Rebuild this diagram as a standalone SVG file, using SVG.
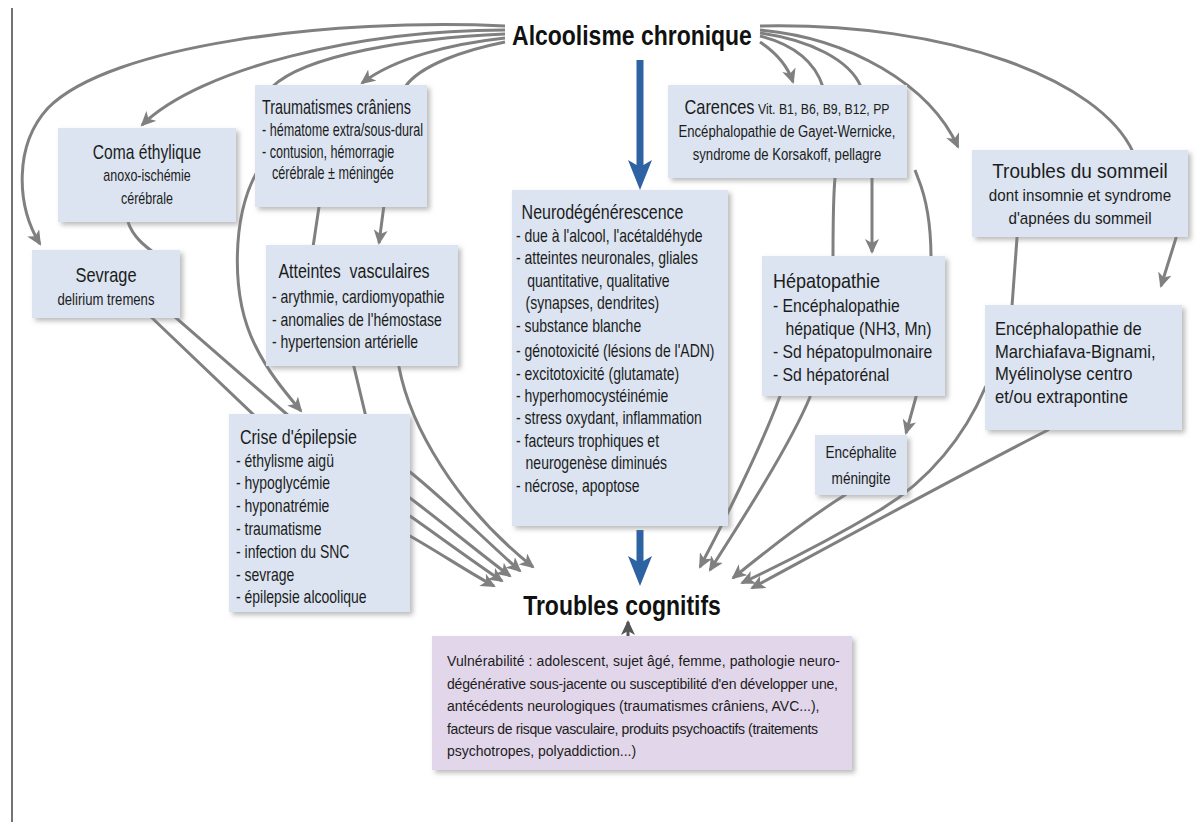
<svg xmlns="http://www.w3.org/2000/svg" width="1203" height="830" viewBox="0 0 1203 830">
<style>
.box{fill:#dbe4f0;filter:url(#sh)}
.vb{fill:#e2d6ea;filter:url(#sh)}
text{font-family:"Liberation Sans",Arial,sans-serif;fill:#1c1c1c;font-size:17.5px}
.h{font-size:20px}
.s{font-size:16px}
.c{text-anchor:middle}
.big{font-weight:bold;font-size:28px;fill:#111;text-anchor:middle}
.v{font-size:14px}
.cn{fill:none;stroke:#808080;stroke-width:3;marker-end:url(#ah)}
.blue{fill:#2d62a3}
</style>
<defs>
<filter id="sh" x="-10%" y="-10%" width="130%" height="130%">
<feDropShadow dx="3" dy="3" stdDeviation="2.5" flood-color="#777" flood-opacity="0.5"/>
</filter>
<marker id="ah" markerUnits="userSpaceOnUse" markerWidth="16" markerHeight="14" refX="13" refY="7" orient="auto">
<path d="M0,0 L15,7 L0,14 L4,7 Z" fill="#808080"/>
</marker>
<marker id="ahd" markerUnits="userSpaceOnUse" markerWidth="16" markerHeight="14" refX="13" refY="7" orient="auto">
<path d="M0,0 L15,7 L0,14 L4,7 Z" fill="#555"/>
</marker>
</defs>
<rect width="1203" height="830" fill="#fff"/>
<line x1="12" y1="8" x2="12" y2="822" stroke="#444" stroke-width="1.5"/>

<g id="connectors">
<path class="cn" d="M505,26 C330,18 110,45 48,108 C14,145 16,205 40,244"/>
<path class="cn" d="M505,30 C360,30 200,68 142,125"/>
<path class="cn" d="M505,34 C410,38 305,55 272,87 L258,170 C232,215 230,295 255,345 C268,372 285,392 301,411"/>
<path class="cn" d="M505,38 C450,44 395,58 362,83"/>
<path class="cn" d="M505,42 C465,50 420,65 405,87 L384,205 L379,243"/>
<path class="cn" d="M128,222 C133,237 145,246 153,252 L150,316 L256,417 L400,534 L410,536 C440,553 468,572 494,586"/>
<path class="cn" d="M170,312 L176,318 L290,417 L400,513 L410,516 C440,537 472,561 502,581"/>
<path class="cn" d="M320,200 L313,247 L352,360 L354,367 L366,417 L400,496 L410,498 C442,522 478,552 510,576"/>
<path class="cn" d="M400,470 L410,472 C445,500 483,538 520,571"/>
<path class="cn" d="M398,360 L399,367 C410,425 455,505 533,567"/>
<path class="cn" d="M760,42 C775,52 787,64 793,82"/>
<path class="cn" d="M760,36 C795,45 815,62 823,87 L835,172 L835,178 C833,200 833,230 833,258 L782,390 L780,396 C762,445 725,520 700,567"/>
<path class="cn" d="M760,33 C810,40 850,60 861,87 L872,172 L872,252"/>
<path class="cn" d="M915,170 L918,178 C927,200 931,228 931,258 L917,390 L916,397 L906,433"/>
<path class="cn" d="M810,390 L810,397 C790,445 742,520 710,570"/>
<path class="cn" d="M850,490 L845,495 C805,520 765,552 733,578"/>
<path class="cn" d="M1050,425 L1048,430 C960,475 850,535 752,588"/>
<path class="cn" d="M1018,230 L1017,238 L1012,306 L988,383 L985,388 C965,435 930,480 880,510 C830,540 780,565 742,583"/>
<path class="cn" d="M760,30 C850,38 930,85 958,147"/>
<path class="cn" d="M760,26 C950,22 1100,80 1133,152 L1177,232 L1176,238 L1161,286"/>
<path d="M628,636 L628,622" fill="none" stroke="#555" stroke-width="3" marker-end="url(#ahd)"/>
<g id="blue-arrows">
<rect class="blue" x="636.5" y="60" width="7" height="108"/>
<path class="blue" d="M628,160 L640,190 L652,160 L640,167 Z"/>
<rect class="blue" x="636.5" y="530" width="7" height="34"/>
<path class="blue" d="M628,556 L640,586 L652,556 L640,563 Z"/>
</g>
</g>

<g id="alcoolisme">
<g transform="translate(632,0) scale(0.82,1)"><text class="big" x="0" y="45">Alcoolisme chronique</text></g>
</g>
<g id="troubles-cognitifs">
<g transform="translate(622,0) scale(0.82,1)"><text class="big" x="0" y="615">Troubles cognitifs</text></g>
</g>

<g id="coma">
<rect class="box" x="58" y="128" width="178" height="94"/>
<g transform="translate(147,0) scale(0.78,1)">
<text class="h c" x="0" y="159">Coma éthylique</text>
<text class="s c" x="0" y="181">anoxo-ischémie</text>
<text class="s c" x="0" y="204">cérébrale</text>
</g>
</g>

<g id="traumatismes">
<rect class="box" x="255" y="85" width="172" height="122"/>
<g transform="translate(262,0) scale(0.72,1)">
<text class="h" x="0" y="114">Traumatismes crâniens</text>
<text x="0" y="136">- hématome extra/sous-dural</text>
<text x="0" y="158">- contusion, hémorragie</text>
<text x="14" y="179">cérébrale ± méningée</text>
</g>
</g>

<g id="carences">
<rect class="box" x="668" y="85" width="239" height="93"/>
<g transform="translate(787,0) scale(0.82,1)">
<text class="h c" x="0" y="114">Carences<tspan style="font-size:15px"> Vit. B1, B6, B9, B12, PP</tspan></text>
<text class="s c" x="0" y="137">Encéphalopathie de Gayet-Wernicke,</text>
<text class="s c" x="0" y="160">syndrome de Korsakoff, pellagre</text>
</g>
</g>

<g id="sommeil">
<rect class="box" x="972" y="150" width="216" height="87"/>
<g transform="translate(1080,0) scale(0.95,1)">
<text class="h c" x="0" y="178">Troubles du sommeil</text>
<text class="s c" x="0" y="201">dont insomnie et syndrome</text>
<text class="s c" x="0" y="224">d'apnées du sommeil</text>
</g>
</g>

<g id="sevrage">
<rect class="box" x="32" y="250" width="148" height="68"/>
<g transform="translate(106,0) scale(0.82,1)">
<text class="h c" x="0" y="282">Sevrage</text>
<text class="s c" x="0" y="305">delirium tremens</text>
</g>
</g>

<g id="atteintes-vasculaires">
<rect class="box" x="266" y="245" width="192" height="121"/>
<g transform="translate(272,0) scale(0.8,1)">
<text class="h" x="8" y="278" style="white-space:pre">Atteintes  vasculaires</text>
<text x="0" y="303">- arythmie, cardiomyopathie</text>
<text x="0" y="326">- anomalies de l'hémostase</text>
<text x="0" y="348">- hypertension artérielle</text>
</g>
</g>

<g id="neurodegenerescence">
<rect class="box" x="512" y="190" width="216" height="336"/>
<g transform="translate(516,0) scale(0.8,1)">
<text class="h" x="7" y="219">Neurodégénérescence</text>
<text x="0" y="242">- due à l'alcool, l'acétaldéhyde</text>
<text x="0" y="264">- atteintes neuronales, gliales</text>
<text x="14" y="287">quantitative, qualitative</text>
<text x="12" y="309">(synapses, dendrites)</text>
<text x="0" y="332">- substance blanche</text>
<text x="0" y="357">- génotoxicité (lésions de l'ADN)</text>
<text x="0" y="380">- excitotoxicité (glutamate)</text>
<text x="0" y="402">- hyperhomocystéinémie</text>
<text x="0" y="424">- stress oxydant, inflammation</text>
<text x="0" y="447">- facteurs trophiques et</text>
<text x="12" y="469">neurogenèse diminués</text>
<text x="0" y="492">- nécrose, apoptose</text>
</g>
</g>

<g id="hepatopathie">
<rect class="box" x="762" y="256" width="183" height="140"/>
<g transform="translate(773,0) scale(0.9,1)">
<text class="h" x="0" y="288">Hépatopathie</text>
<text x="0" y="312">- Encéphalopathie</text>
<text x="14" y="335">hépatique (NH3, Mn)</text>
<text x="0" y="358">- Sd hépatopulmonaire</text>
<text x="0" y="381">- Sd hépatorénal</text>
</g>
</g>

<g id="marchiafava">
<rect class="box" x="985" y="305" width="197" height="125"/>
<g transform="translate(995,0) scale(0.95,1)">
<text x="0" y="335">Encéphalopathie de</text>
<text x="0" y="358">Marchiafava-Bignami,</text>
<text x="0" y="380">Myélinolyse centro</text>
<text x="0" y="403">et/ou extrapontine</text>
</g>
</g>

<g id="encephalite">
<rect class="box" x="815" y="435" width="92" height="60"/>
<g transform="translate(861,0) scale(0.85,1)">
<text class="s c" x="0" y="458">Encéphalite</text>
<text class="s c" x="0" y="484">méningite</text>
</g>
</g>

<g id="crise-epilepsie">
<rect class="box" x="229" y="414" width="181" height="198"/>
<g transform="translate(236,0) scale(0.8,1)">
<text class="h" x="5" y="444">Crise d'épilepsie</text>
<text x="0" y="467">- éthylisme aigü</text>
<text x="0" y="489">- hypoglycémie</text>
<text x="0" y="512">- hyponatrémie</text>
<text x="0" y="535">- traumatisme</text>
<text x="0" y="558">- infection du SNC</text>
<text x="0" y="581">- sevrage</text>
<text x="0" y="603">- épilepsie alcoolique</text>
</g>
</g>

<g id="vulnerabilite">
<rect class="vb" x="432" y="636" width="420" height="134"/>
<text class="v" x="447" y="666" textLength="393" lengthAdjust="spacing">Vulnérabilité : adolescent, sujet âgé, femme, pathologie neuro-</text>
<text class="v" x="447" y="689" textLength="391" lengthAdjust="spacing">dégénérative sous-jacente ou susceptibilité d'en développer une,</text>
<text class="v" x="447" y="711">antécédents neurologiques (traumatismes crâniens, AVC...),</text>
<text class="v" x="447" y="734" textLength="371" lengthAdjust="spacing">facteurs de risque vasculaire, produits psychoactifs (traitements</text>
<text class="v" x="447" y="756">psychotropes, polyaddiction...)</text>
</g>
</svg>
